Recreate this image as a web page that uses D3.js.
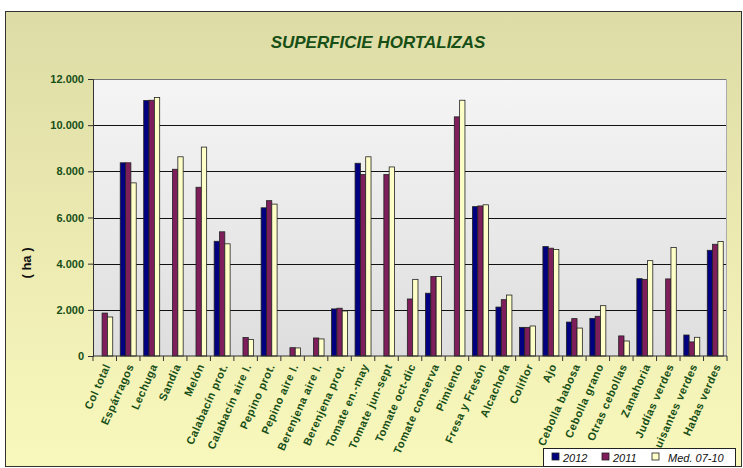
<!DOCTYPE html>
<html>
<head>
<meta charset="utf-8">
<script src="https://cdn.jsdelivr.net/npm/d3@7"></script>
<style>
  body { margin: 0; background: #fff; }
  svg { display: block; font-family: 'Liberation Sans', Arial, sans-serif; }
  .tick-label { font-size: 11px; font-weight: bold; fill: #174f17; }
  .cat-label { font-size: 11px; font-weight: bold; fill: #174f17; letter-spacing: 0.5px; }
</style>
</head>
<body>
<svg width="743" height="468"></svg>
<script>
const categories = ['Col total', 'Espárragos', 'Lechuga', 'Sandia', 'Melón', 'Calabacín prot.',
  'Calabacín aire l.', 'Pepino prot.', 'Pepino aire l.', 'Berenjena aire l.', 'Berenjena prot.',
  'Tomate en.-may', 'Tomate jun-sept', 'Tomate oct-dic', 'Tomate conserva', 'Pimiento',
  'Fresa y Fresón', 'Alcachofa', 'Coliflor', 'Ajo', 'Cebolla babosa', 'Cebolla grano',
  'Otras cebollas', 'Zanahoria', 'Judías verdes', 'Guisantes verdes', 'Habas verdes'];

const series = ['2012', '2011', 'Med. 07-10'];

const values2012 = [null, 8370, 11070, null, null, 4970, null, 6420, null, null, 2040,
  8350, null, null, 2720, null, 6470, 2120, 1240, 4740, 1470, 1630, null, 3350, null, 910, 4580];
const values2011 = [1860, 8370, 11080, 8090, 7310, 5380, 800, 6730, 360, 780, 2070,
  7860, 7860, 2470, 3440, 10360, 6500, 2440, 1240, 4670, 1620, 1720, 870, 3320, 3340, 610, 4840];
const valuesMed = [1690, 7500, 11200, 8630, 9050, 4860, 710, 6580, 350, 740, 1950,
  8630, 8190, 3320, 3440, 11080, 6550, 2640, 1300, 4610, 1210, 2180, 650, 4130, 4700, 810, 4960];

const yTicks = [0, 2000, 4000, 6000, 8000, 10000, 12000];
const yTickLabels = ['0', '2.000', '4.000', '6.000', '8.000', '10.000', '12.000'];

const colors = ['#000080', '#7e1f5c', '#ffffc8'];
const title = 'SUPERFICIE HORTALIZAS';
const yLabel = '( ha )';

const svg = d3.select('svg');
const width = +svg.attr('width');
const height = +svg.attr('height');
const margin = { left: 93, right: 16, top: 79, bottom: 112 };
const innerWidth = width - margin.left - margin.right;
const innerHeight = height - margin.top - margin.bottom;

const defs = svg.append('defs');
const bgGrad = defs.append('linearGradient').attr('id', 'bg').attr('x1', 0).attr('y1', 0).attr('x2', 0).attr('y2', 1);
bgGrad.append('stop').attr('offset', '0%').attr('stop-color', '#dedca6');
bgGrad.append('stop').attr('offset', '100%').attr('stop-color', '#f9f8bc');
const plotGrad = defs.append('linearGradient').attr('id', 'plotbg').attr('x1', 0).attr('y1', 0).attr('x2', 0).attr('y2', 1);
plotGrad.append('stop').attr('offset', '0%').attr('stop-color', '#f5f5f5');
plotGrad.append('stop').attr('offset', '100%').attr('stop-color', '#dedede');

// chart area
svg.append('rect')
  .attr('x', 5.5).attr('y', 11.5)
  .attr('width', 736).attr('height', 455)
  .attr('fill', 'url(#bg)')
  .attr('stroke', '#333').attr('stroke-width', 1);

const data = categories.map((c, i) => ({
  category: c,
  values: [values2012[i], values2011[i], valuesMed[i]]
}));

const x0 = d3.scaleBand().domain(categories).range([0, innerWidth]).padding(0);
const x1 = d3.scaleBand().domain(series)
  .range([x0.bandwidth() * 0.16, x0.bandwidth() * 0.84]);
const y = d3.scaleLinear().domain([0, 12000]).range([innerHeight, 0]);

const g = svg.append('g').attr('transform', `translate(${margin.left},${margin.top})`);

g.append('rect')
  .attr('width', innerWidth).attr('height', innerHeight)
  .attr('fill', 'url(#plotbg)');

// gridlines
g.selectAll('.grid').data(yTicks.slice(1)).enter().append('line')
  .attr('x1', 0).attr('x2', innerWidth)
  .attr('y1', d => Math.round(y(d)) + 0.5).attr('y2', d => Math.round(y(d)) + 0.5)
  .attr('stroke', d => d === 12000 ? '#777' : '#111').attr('stroke-width', 1);

g.append('line')
  .attr('x1', innerWidth - 0.5).attr('x2', innerWidth - 0.5)
  .attr('y1', 0).attr('y2', innerHeight)
  .attr('stroke', '#aaa');

// bars
const groups = g.selectAll('.grp').data(data).enter().append('g')
  .attr('transform', d => `translate(${x0(d.category)},0)`);

groups.selectAll('rect')
  .data(d => d.values.map((v, i) => ({ key: series[i], value: v, i })).filter(e => e.value != null))
  .enter().append('rect')
  .attr('x', d => x1(d.key))
  .attr('y', d => y(d.value))
  .attr('width', x1.bandwidth())
  .attr('height', d => innerHeight - y(d.value))
  .attr('fill', d => colors[d.i])
  .attr('stroke', '#222').attr('stroke-width', 0.8);

// y axis
const yAxis = d3.axisLeft(y).tickValues(yTicks)
  .tickFormat((d, i) => yTickLabels[i]).tickSize(5).tickPadding(4);
const yAxisG = g.append('g').call(yAxis);
yAxisG.select('.domain').attr('stroke', '#333');
yAxisG.selectAll('.tick line').attr('stroke', '#333');
yAxisG.selectAll('.tick text').attr('class', 'tick-label');

// x axis
const xAxisG = g.append('g').attr('transform', `translate(0,${innerHeight})`);
xAxisG.append('line').attr('x1', 0).attr('x2', innerWidth).attr('stroke', '#333');
xAxisG.selectAll('.xt').data(categories.concat(['end'])).enter().append('line')
  .attr('x1', (d, i) => i * x0.step()).attr('x2', (d, i) => i * x0.step())
  .attr('y1', 0).attr('y2', 5)
  .attr('stroke', '#333');

xAxisG.selectAll('.cat-label').data(categories).enter().append('text')
  .attr('class', 'cat-label')
  .attr('text-anchor', 'end')
  .attr('transform', d => `translate(${x0(d) + x0.bandwidth() / 2 + 6},${10}) rotate(-66)`)
  .text(d => d);

// title
svg.append('text')
  .attr('x', 378).attr('y', 48)
  .attr('text-anchor', 'middle')
  .attr('font-size', 17).attr('font-weight', 'bold').attr('font-style', 'italic')
  .attr('fill', '#174f17')
  .text(title);

// y label
svg.append('text')
  .attr('transform', `translate(31,263) rotate(-90)`)
  .attr('text-anchor', 'middle')
  .attr('font-size', 13).attr('font-weight', 'bold')
  .attr('fill', '#111')
  .text(yLabel);

// legend
const legend = svg.append('g').attr('transform', 'translate(543,448)');
legend.append('rect').attr('x', 0.5).attr('y', 0.5).attr('width', 192).attr('height', 18)
  .attr('fill', '#fff').attr('stroke', '#222');
const legendX = [9, 59, 109];
const legendTextX = [11, 11, 16];
const item = legend.selectAll('.item').data(series).enter().append('g')
  .attr('transform', (d, i) => `translate(${legendX[i]},0)`);
item.append('rect').attr('x', 0).attr('y', 5).attr('width', 7).attr('height', 7)
  .attr('fill', (d, i) => colors[i]).attr('stroke', '#222').attr('stroke-width', 0.8);
item.append('text').attr('x', (d, i) => legendTextX[i]).attr('y', 13.5)
  .attr('font-size', 11).attr('font-style', 'italic').attr('fill', '#111')
  .text(d => d);
</script>
</body>
</html>
